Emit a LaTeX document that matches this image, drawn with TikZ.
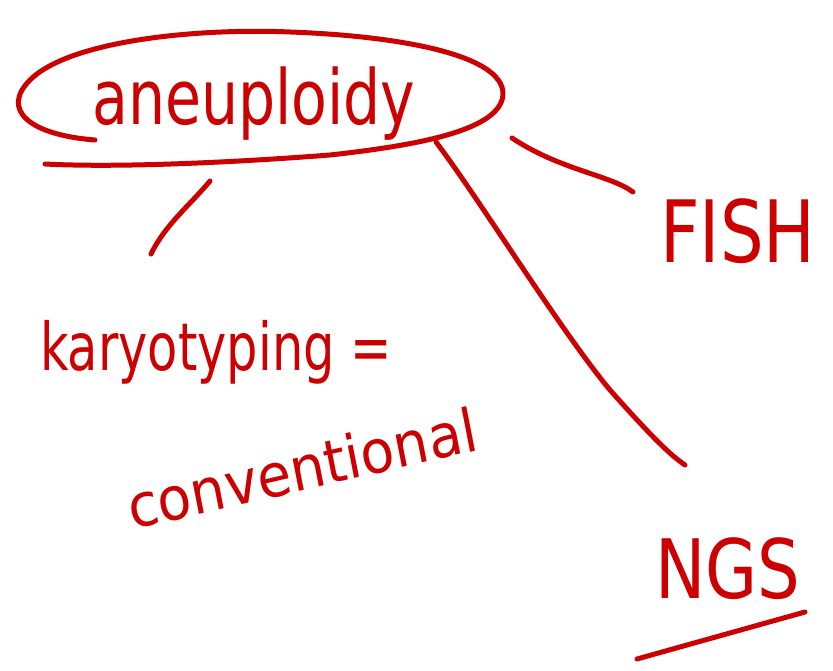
\documentclass[tikz,border=0pt]{standalone}
\usepackage{fontspec}
\setmainfont{DejaVu Sans}
\definecolor{ink}{RGB}{204,0,0}
\begin{document}
\begin{tikzpicture}[x=1pt,y=-1pt,
  pen/.style={draw=ink,line width=5pt,line cap=round,line join=round},
  word/.style={text=ink,inner sep=0pt,anchor=base west,transform shape}]
\fill[white] (0,0) rectangle (833,671);
\useasboundingbox (0,0) rectangle (833,671);
% main word
\node[word,font=\fontsize{76}{80}\selectfont,xscale=0.77] (an) at (92,125) {aneuploidy};
% ellipse-like stroke
\coordinate (e0) at (95,140);
\coordinate (e1) at (45,164);
\draw[pen] (e0) .. controls (30,135) and (0,110) .. (30,80)
  .. controls (70,40) and (200,28) .. (290,32)
  .. controls (400,36) and (505,55) .. (503,95)
  .. controls (500,130) and (420,145) .. (330,155)
  .. controls (240,162) and (120,168) .. (e1);
% connectors
\coordinate (k0) at (210,181);
\coordinate (k1) at (151,254);
\draw[pen] (k0) .. controls (190,205) and (165,225) .. (k1);
\coordinate (f0) at (512,138);
\coordinate (f1) at (633,192);
\draw[pen] (f0) .. controls (560,170) and (610,175) .. (f1);
\coordinate (n0) at (436,142);
\coordinate (n1) at (685,465);
\draw[pen] (n0) .. controls (480,200) and (560,330) .. (610,390)
  .. controls (650,435) and (670,455) .. (n1);
% other labels
\node[word,font=\fontsize{66}{70}\selectfont,xscale=0.75] (ka) at (40,370) {karyotyping =};
\node[word,font=\fontsize{60}{64}\selectfont,xscale=0.92,rotate=12] (co) at (132,530) {conventional};
\node[word,font=\fontsize{86}{90}\selectfont,xscale=0.8] (fi) at (660,262) {FISH};
\node[word,font=\fontsize{82}{86}\selectfont,xscale=0.82] (ng) at (655,598) {NGS};
\coordinate (u0) at (637,659);
\coordinate (u1) at (805,612);
\draw[pen] (u0) -- (u1);
\end{tikzpicture}
\end{document}
